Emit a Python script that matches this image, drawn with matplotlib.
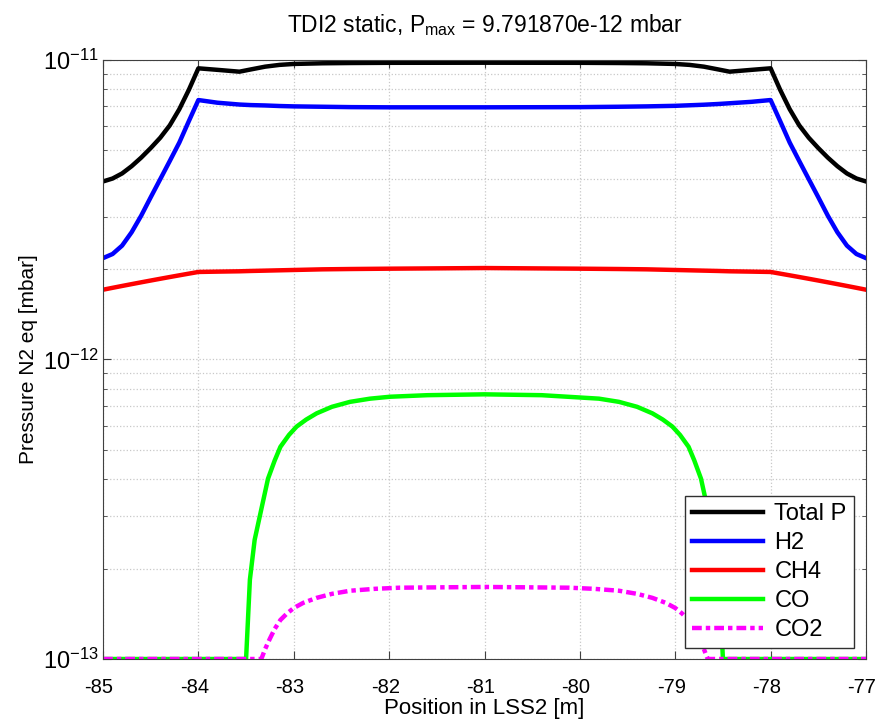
import matplotlib.pyplot as plt
import matplotlib.transforms as mtransforms
import numpy as np

plt.rcParams['font.family'] = ['Liberation Sans', 'DejaVu Sans']
plt.rcParams['mathtext.fontset'] = 'custom'
plt.rcParams['mathtext.rm'] = 'Liberation Sans'
plt.rcParams['mathtext.it'] = 'Liberation Sans:italic'
plt.rcParams['axes.unicode_minus'] = False

# positions along LSS2 [m]
x_main = [-85.0, -84.9, -84.8, -84.7, -84.6, -84.5, -84.4, -84.3, -84.2, -84.1, -84.0,
          -83.8, -83.57, -83.45, -83.3, -83.15, -83.0, -82.7, -82.4, -82.0, -81.0,
          -80.0, -79.6, -79.3, -79.0, -78.85, -78.7, -78.55, -78.43, -78.2, -78.0,
          -77.9, -77.8, -77.7, -77.6, -77.5, -77.4, -77.3, -77.2, -77.1, -77.0]

# pressures in 1e-12 mbar
total_p = np.array([3.93, 4.02, 4.18, 4.42, 4.72, 5.08, 5.5, 6.05, 6.85, 7.95, 9.38,
                    9.27, 9.14, 9.3, 9.5, 9.63, 9.7, 9.75, 9.77, 9.785, 9.79187,
                    9.785, 9.77, 9.75, 9.7, 9.63, 9.5, 9.3, 9.14, 9.27, 9.38,
                    7.95, 6.85, 6.05, 5.5, 5.08, 4.72, 4.42, 4.18, 4.02, 3.93]) * 1e-12

h2 = np.array([2.18, 2.25, 2.4, 2.66, 3.02, 3.48, 4.0, 4.6, 5.3, 6.25, 7.35,
               7.2, 7.1, 7.07, 7.05, 7.02, 7.0, 6.98, 6.96, 6.95, 6.95,
               6.96, 6.98, 7.0, 7.03, 7.06, 7.09, 7.13, 7.17, 7.25, 7.35,
               6.25, 5.3, 4.6, 4.0, 3.48, 3.02, 2.66, 2.4, 2.25, 2.18]) * 1e-12

ch4 = np.array([1.71, 1.735, 1.76, 1.785, 1.81, 1.835, 1.86, 1.885, 1.91, 1.935, 1.96,
                1.965, 1.97, 1.975, 1.98, 1.985, 1.99, 2.0, 2.005, 2.01, 2.02,
                2.01, 2.005, 2.0, 1.99, 1.985, 1.98, 1.975, 1.97, 1.965, 1.96,
                1.935, 1.91, 1.885, 1.86, 1.835, 1.81, 1.785, 1.76, 1.735, 1.71]) * 1e-12

x_co = [-85.0, -83.5, -83.46, -83.41, -83.35, -83.27, -83.2, -83.14, -83.05, -82.97,
        -82.87, -82.76, -82.6, -82.41, -82.2, -81.99, -81.6, -81.0, -80.4, -79.8,
        -79.59, -79.4, -79.24, -79.13, -79.03, -78.95, -78.86, -78.8, -78.73, -78.65,
        -78.59, -78.54, -78.5, -77.0]
# pressures in 1e-13 mbar
co = np.array([1, 1, 1.84, 2.5, 3.06, 4.0, 4.6, 5.11, 5.6, 5.97,
               6.3, 6.61, 6.95, 7.22, 7.4, 7.51, 7.6, 7.65, 7.6, 7.4,
               7.22, 6.95, 6.61, 6.3, 5.97, 5.6, 5.11, 4.6, 4.0, 3.06,
               2.5, 1.84, 1, 1]) * 1e-13

x_co2 = [-85.0, -83.34, -83.3, -83.25, -83.2, -83.14, -83.07, -83.0, -82.9, -82.76,
         -82.6, -82.41, -82.15, -81.89, -81.0, -80.11, -79.85, -79.59, -79.4, -79.24,
         -79.1, -79.0, -78.93, -78.86, -78.8, -78.75, -78.7, -78.66, -77.0]
co2 = np.array([1, 1, 1.08, 1.17, 1.26, 1.35, 1.42, 1.48, 1.54, 1.6,
                1.65, 1.69, 1.715, 1.73, 1.74, 1.73, 1.715, 1.69, 1.65, 1.6,
                1.54, 1.48, 1.42, 1.35, 1.26, 1.17, 1.08, 1, 1]) * 1e-13

p_max = total_p.max()

fig = plt.figure(figsize=(8.79, 7.21), dpi=100)
ax = fig.add_axes([0.1172, 0.086, 0.868, 0.8308])

lw = 3.2
ax.plot(x_main, total_p, color='k', lw=lw, label='Total P')
ax.plot(x_main, h2, color=(0, 0, 1), lw=lw, label='H2')
ax.plot(x_main, ch4, color=(1, 0, 0), lw=lw, label='CH4')
ax.plot(x_co, co, color=(0, 1, 0), lw=lw, label='CO')
ax.plot(x_co2, co2, color=(1, 0, 1), lw=lw, dashes=(2.2, 0.9, 1.0, 0.9), label='CO2')

ax.set_yscale('log')
ax.set_xlim(-85, -77)
ax.set_ylim(1e-13, 1e-11)
ax.set_xticks(np.arange(-85, -76, 1))

ax.grid(True, which='major', color='#c8c8c8', linestyle=':', linewidth=0.9)
ax.grid(True, which='minor', axis='y', color='#c8c8c8', linestyle=':', linewidth=0.9)
ax.tick_params(which='both', direction='in', top=True, right=True, color='#404040')
ax.tick_params(which='major', length=6)
ax.tick_params(which='minor', length=3)
ax.tick_params(axis='x', labelsize=14.5, pad=13.5)
ax.tick_params(axis='y', labelsize=17, pad=3)
for s in ax.spines.values():
    s.set_color('#404040')

# shift x tick labels slightly left, like the original
shift = mtransforms.ScaledTranslation(-4 / 100, 0, fig.dpi_scale_trans)
for lab in ax.get_xticklabels():
    lab.set_transform(lab.get_transform() + shift)

ax.set_xlabel('Position in LSS2 [m]', fontsize=16, labelpad=1)
ax.set_ylabel('Pressure N2 eq [mbar]', fontsize=15, labelpad=4)
ax.set_title('TDI2 static, P$_{\\mathrm{max}}$ = %e mbar' % p_max, fontsize=16.5, pad=20)

leg = ax.legend(loc='lower right', bbox_to_anchor=(0.984, 0.018), fontsize=17,
                handlelength=3.0, fancybox=False, framealpha=1, edgecolor='#303030',
                borderpad=0.3, labelspacing=0.3, handletextpad=0.5, borderaxespad=0)
leg.get_frame().set_linewidth(1.0)

fig.savefig('out.png', dpi=100)
